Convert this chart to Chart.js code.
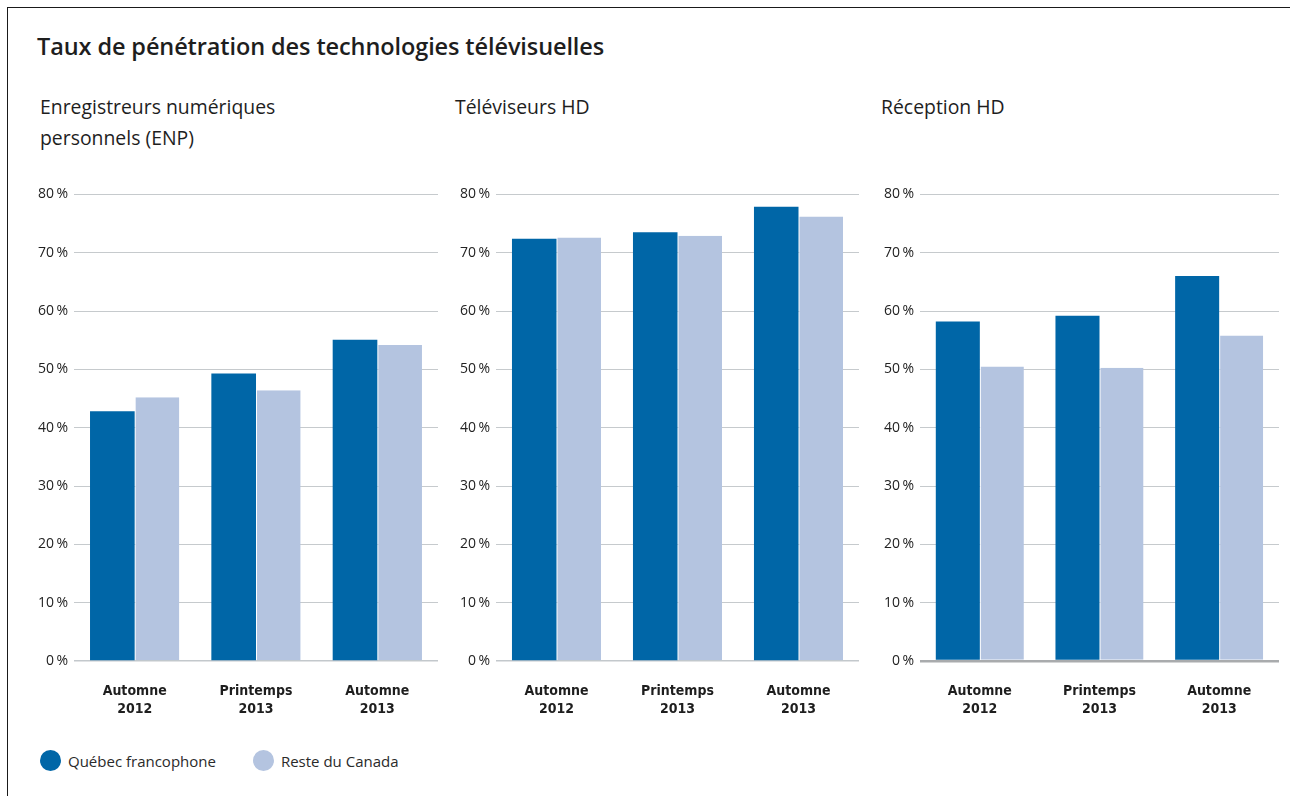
<!DOCTYPE html>
<html lang="fr">
<head>
<meta charset="utf-8">
<script src="https://cdn.jsdelivr.net/npm/chart.js@4.4.1/dist/chart.umd.min.js"></script>
<style>
  html, body { margin: 0; padding: 0; background: #fff; }
  body { width: 1297px; height: 796px; position: relative; overflow: hidden; font-family: 'Open Sans', sans-serif; color: #1e1e1e; }
  .frame-top { position: absolute; left: 8px; top: 7px; width: 1282px; height: 0; border-top: 1.5px solid #1a1a1a; }
  .frame-left { position: absolute; left: 7px; top: 7px; width: 0; height: 800px; border-left: 1.5px solid #1a1a1a; }
  .title { position: absolute; left: 37px; top: 30px; font-size: 23.5px; font-weight: 600; white-space: nowrap; letter-spacing: -0.1px; }
  .sub { position: absolute; top: 91px; font-size: 19.4px; line-height: 31px; }
  .panel { position: absolute; top: 180px; }
  .legend { position: absolute; left: 40px; top: 750px; display: flex; align-items: center; font-size: 15px; color: #2a2a2a; }
  .legend .item { display: flex; align-items: center; margin-right: 37px; }
  .legend .dot { width: 21px; height: 21px; border-radius: 50%; margin-right: 7px; }
</style>
</head>
<body>
<div class="frame-top"></div>
<div class="frame-left"></div>
<div class="title" id="title"></div>
<div class="sub" id="sub0" style="left:40px; width:320px;"></div>
<div class="sub" id="sub1" style="left:455px;"></div>
<div class="sub" id="sub2" style="left:881px;"></div>
<div class="panel" style="left:30px;"><canvas id="c0" width="408" height="541"></canvas></div>
<div class="panel" style="left:450px;"><canvas id="c1" width="409" height="541"></canvas></div>
<div class="panel" style="left:870px;"><canvas id="c2" width="409" height="541"></canvas></div>
<div class="legend" id="legend"></div>
<script>
// ---- data ----
const chartTitle = "Taux de pénétration des technologies télévisuelles";
const panelTitles = ["Enregistreurs numériques<br>personnels (ENP)", "Téléviseurs HD", "Réception HD"];
const categories = [["Automne", "2012"], ["Printemps", "2013"], ["Automne", "2013"]];
const seriesNames = ["Québec francophone", "Reste du Canada"];
const seriesColors = ["#0066a7", "#b4c4e0"];
const quebecENP = [42.8, 49.3, 55.1];
const resteENP = [45.2, 46.4, 54.2];
const quebecTVHD = [72.4, 73.5, 77.9];
const resteTVHD = [72.6, 72.9, 76.2];
const quebecRecHD = [58.2, 59.2, 66.0];
const resteRecHD = [50.5, 50.3, 55.8];
const yTickValues = [0, 10, 20, 30, 40, 50, 60, 70, 80];

document.getElementById('title').textContent = chartTitle;
panelTitles.forEach((t, i) => { document.getElementById('sub' + i).innerHTML = t; });
const leg = document.getElementById('legend');
seriesNames.forEach((n, i) => {
  const it = document.createElement('div'); it.className = 'item';
  const d = document.createElement('span'); d.className = 'dot'; d.style.background = seriesColors[i];
  const t = document.createElement('span'); t.textContent = n;
  it.appendChild(d); it.appendChild(t); leg.appendChild(it);
});

const panels = [
  { id: 'c0', q: quebecENP, r: resteENP, yw: 44, base: '#c3c8cc', baseW: 1.5 },
  { id: 'c1', q: quebecTVHD, r: resteTVHD, yw: 46, base: '#c3c8cc', baseW: 1.5 },
  { id: 'c2', q: quebecRecHD, r: resteRecHD, yw: 50, base: '#a9abad', baseW: 2.5 }
];

panels.forEach(p => {
  new Chart(document.getElementById(p.id), {
    type: 'bar',
    data: {
      labels: categories,
      datasets: [
        { label: seriesNames[0], data: p.q, backgroundColor: seriesColors[0], borderWidth: 0 },
        { label: seriesNames[1], data: p.r, backgroundColor: seriesColors[1],
          borderColor: '#ffffff', borderWidth: { left: 1, top: 0, right: 0, bottom: 0 }, borderSkipped: false }
      ]
    },
    options: {
      responsive: false,
      devicePixelRatio: 1,
      animation: false,
      layout: { padding: { top: 12, bottom: 0, left: 0, right: 0 } },
      datasets: { bar: { categoryPercentage: 0.736, barPercentage: 1.0 } },
      plugins: { legend: { display: false }, tooltip: { enabled: false }, title: { display: false } },
      scales: {
        x: {
          grid: { display: false },
          border: { display: false },
          ticks: {
            padding: 13,
            color: '#1e1e1e',
            font: { family: "'DejaVu Sans', sans-serif", size: 14, weight: 'bold condensed', lineHeight: 1.32 }
          },
          afterFit: s => { s.height = 60; }
        },
        y: {
          min: 0, max: 80,
          afterBuildTicks: s => { s.ticks = yTickValues.map(v => ({ value: v })); },
          grid: {
            drawTicks: false,
            color: ctx => ctx.tick && ctx.tick.value === 0 ? p.base : '#c6cacd',
            lineWidth: ctx => ctx.tick && ctx.tick.value === 0 ? p.baseW : 1
          },
          border: { display: false },
          ticks: {
            padding: 6,
            color: '#222',
            font: { family: "'Open Sans', sans-serif", size: 14 },
            callback: v => v + '\u2009%'
          },
          afterFit: s => { s.width = p.yw; }
        }
      }
    }
  });
});
</script>
</body>
</html>
